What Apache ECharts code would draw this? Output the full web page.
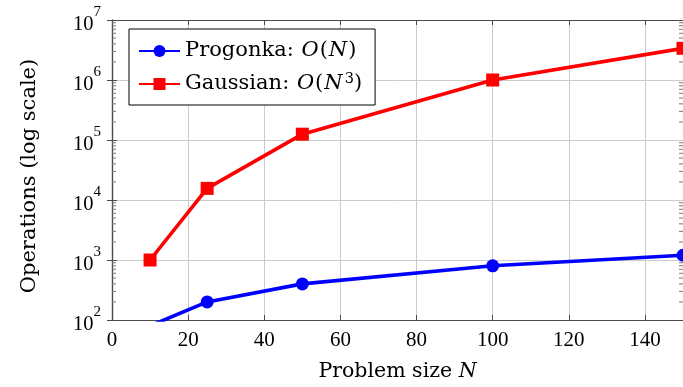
<!DOCTYPE html>
<html><head><meta charset="utf-8">
<script src="https://cdn.jsdelivr.net/npm/echarts@6/dist/echarts.min.js"></script>
<style>html,body{margin:0;padding:0;background:#fff}#c{width:683px;height:387px}</style>
</head><body><div id="c"></div>
<script>
const problemSize = [10, 25, 50, 100, 150];
const progonkaOps = [80, 200, 400, 800, 1200];
const gaussianOps = [1000, 15625, 125000, 1000000, 3375000];
const xTickStep = 20;
const yDecades = [2, 3, 4, 5, 6, 7];

const TXT = 'DejaVu Serif';
const NUM = 'Liberation Serif';
const minorVals = [];
for (let k = yDecades[0]; k < yDecades[yDecades.length - 1]; k++) {
  for (let m = 2; m <= 9; m++) minorVals.push([0, m * Math.pow(10, k)]);
}
const chart = echarts.init(document.getElementById('c'), null, {renderer: 'canvas'});
const frame = '#4a4a4a';
const grid = '#cccccc';
const yLabelFmt = v => '{b|10}{s|' + Math.round(Math.log10(v)) + '}';
chart.setOption({
  animation: false,
  backgroundColor: '#fff',
  grid: {left: 112, right: -2, top: 20, bottom: 67, containLabel: false},
  legend: {
    data: ['Progonka', 'Gaussian'],
    left: 129, top: 29, orient: 'vertical',
    backgroundColor: '#fff', borderColor: '#000', borderWidth: 1, borderRadius: 0,
    padding: [10, 13, 9, 9], itemGap: 9, itemWidth: 41, itemHeight: 15, itemTextGap: 11,
    formatter: n => n === 'Progonka' ? 'Progonka: {i|O}({i|N})' : 'Gaussian: {i|O}({i|N}{s|3})',
    textStyle: {
      fontFamily: TXT, fontSize: 21, color: '#000', lineHeight: 24,
      rich: {
        i: {fontFamily: TXT, fontStyle: 'italic', fontSize: 21, color: '#000', lineHeight: 24, padding: [0, 1, 0, 1]},
        s: {fontFamily: TXT, fontSize: 14.5, color: '#000', verticalAlign: 'top', lineHeight: 24, padding: [0, 0, 8, 1]}
      }
    }
  },
  xAxis: [{
    type: 'value', min: 0, max: 150, interval: xTickStep, position: 'bottom',
    name: 'Problem size {i|N}', nameLocation: 'middle', nameGap: 41,
    nameTextStyle: {fontFamily: TXT, fontSize: 20.5, color: '#000',
      rich: {i: {fontFamily: TXT, fontStyle: 'italic', fontSize: 20.5, color: '#000'}}},
    axisLine: {show: true, lineStyle: {color: frame, width: 1.2}},
    axisTick: {show: true, inside: true, length: 5, lineStyle: {color: frame}},
    axisLabel: {fontFamily: NUM, fontSize: 21, color: '#000', margin: 10, showMaxLabel: false},
    splitLine: {show: true, lineStyle: {color: grid, width: 1}}
  }, {
    type: 'value', min: 0, max: 150, interval: xTickStep, position: 'top',
    axisLine: {show: true, lineStyle: {color: frame, width: 1.2}},
    axisTick: {show: true, inside: true, length: 5, lineStyle: {color: frame}},
    axisLabel: {show: false}, splitLine: {show: false}
  }],
  yAxis: [{
    type: 'log', logBase: 10, min: 100, max: 1e7, position: 'left',
    name: 'Operations (log scale)', nameLocation: 'middle', nameGap: 72, nameRotate: 90,
    nameTextStyle: {fontFamily: TXT, fontSize: 21, color: '#000', padding: [0, 12, 0, 0]},
    axisLine: {show: true, lineStyle: {color: frame, width: 1.2}},
    axisTick: {show: true, inside: true, length: 5, lineStyle: {color: frame}},
    axisLabel: {formatter: yLabelFmt, margin: 11, rich: {
      b: {fontFamily: NUM, fontSize: 20.5, color: '#000', padding: [10, 0, 0, 0]},
      s: {fontFamily: NUM, fontSize: 15, color: '#000', verticalAlign: 'top', padding: [0, 0, 0, 0]}}},
    splitLine: {show: true, lineStyle: {color: grid, width: 1}}
  }, {
    type: 'log', logBase: 10, min: 100, max: 1e7, position: 'right',
    axisLine: {show: true, lineStyle: {color: frame, width: 1.2}},
    axisTick: {show: true, inside: true, length: 5, lineStyle: {color: frame}},
    axisLabel: {show: false}, splitLine: {show: false}
  }],
  series: [{
    name: 'Progonka', type: 'line', clip: true,
    data: problemSize.map((n, i) => [n, progonkaOps[i]]),
    symbol: 'circle', symbolSize: 13,
    lineStyle: {color: '#0000ff', width: 3.6}, itemStyle: {color: '#0000ff'}, z: 3
  }, {
    name: 'Gaussian', type: 'line', clip: true,
    data: problemSize.map((n, i) => [n, gaussianOps[i]]),
    symbol: 'rect', symbolSize: 13,
    lineStyle: {color: '#ff0000', width: 3.6}, itemStyle: {color: '#ff0000'}, z: 3
  }, {
    type: 'custom', silent: true, data: minorVals, clip: false, z: 2,
    renderItem: (params, api) => {
      const v = api.value(1);
      const l = api.coord([0, v]);
      const r = api.coord([150, v]);
      return {type: 'group', children: [
        {type: 'line', shape: {x1: l[0], y1: l[1], x2: l[0] + 4, y2: l[1]}, style: {stroke: '#777', lineWidth: 1}},
        {type: 'line', shape: {x1: r[0] - 4, y1: r[1], x2: r[0], y2: r[1]}, style: {stroke: '#777', lineWidth: 1}}
      ]};
    }
  }]
});
</script></body></html>
